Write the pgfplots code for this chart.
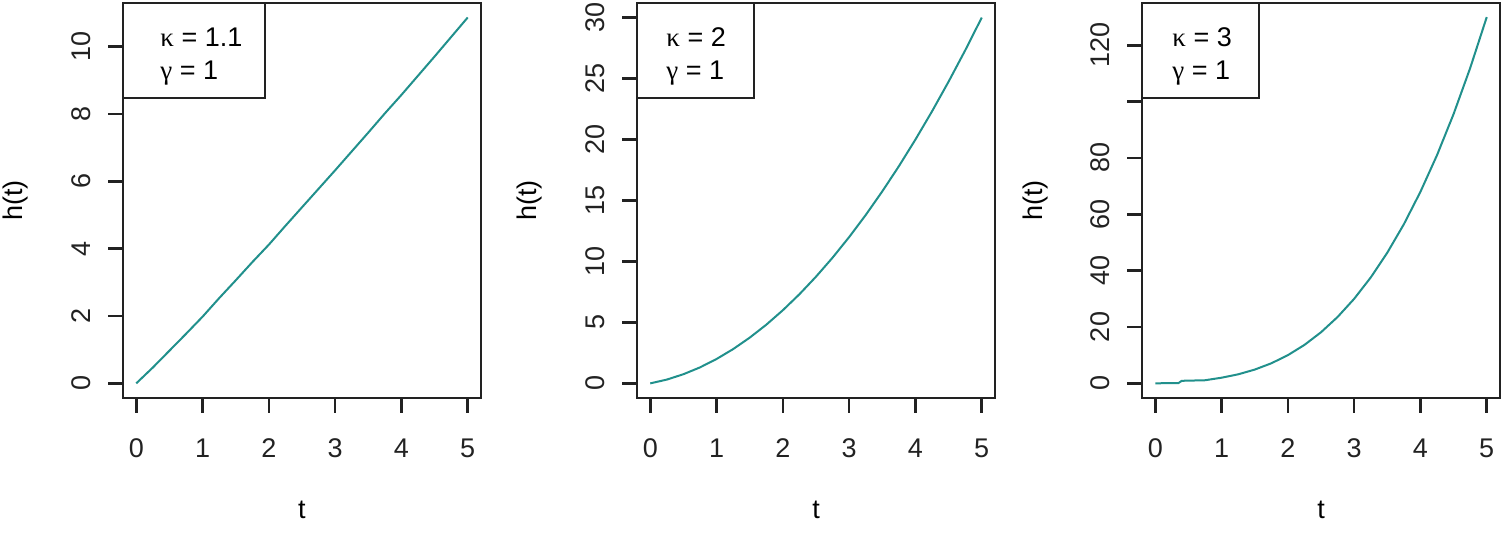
\documentclass[border=0pt]{standalone}
\usepackage{fontspec}
\setmainfont{Liberation Sans}
\newfontfamily\grk{Liberation Serif}
\usepackage{pgfplots}
\pgfplotsset{compat=1.18}
\definecolor{curve}{HTML}{21908C}
\definecolor{frame}{HTML}{222222}

\pgfplotsset{
  every tick/.style={draw=frame, line width=1.3pt},
  hpanel/.style={
    scale only axis, width=179pt, height=197.5pt,
    anchor=south west,
    axis line style={frame, line width=1pt},
    major tick style={draw=frame, line width=1.3pt},
    tick align=outside, major tick length=7.5pt,
    xtick pos=bottom, ytick pos=left,
    xmin=-0.2, xmax=5.2, xtick={0,1,2,3,4,5},
    /pgf/number format/assume math mode=true,
    ticklabel style={font=\fontsize{13.5}{15}\selectfont, text=frame},
    xticklabel style={yshift=-9.5pt},
    yticklabel style={xshift=-5pt, rotate=90, anchor=south},
    xlabel={t}, ylabel={h(t)},
    every axis x label/.style={at={([yshift=-56pt]axis description cs:0.5,0)}, anchor=center, font=\fontsize{13.5}{15}\selectfont},
    every axis y label/.style={at={([xshift=-53.5pt]axis description cs:0,0.5)}, anchor=center, rotate=90, font=\fontsize{13.5}{15}\selectfont},
  },
  hcurve/.style={curve, line width=1pt, no markers},
}

\newcommand\parlegend[3]{%
  \draw[frame, line width=1pt, fill=white] (rel axis cs:0,1) rectangle +(#1,-47.5pt);
  \path (rel axis cs:0,1) ++(#2,-22pt) node[anchor=base west, inner sep=0pt, font=\fontsize{13.5}{15}\selectfont] {{\grk κ} = #3};
  \path (rel axis cs:0,1) ++(#2,-38.5pt) node[anchor=base west, inner sep=0pt, font=\fontsize{13.5}{15}\selectfont] {{\grk γ} = 1};
}

\begin{document}
\begin{tikzpicture}
\path[use as bounding box] (0,0) rectangle (751.5pt,269.5pt);

\begin{axis}[hpanel, at={(61.5pt,70.5pt)}, ymin=-0.435, ymax=11.3, ytick={0,2,4,6,8,10}]
\addplot[hcurve] coordinates {
(0,0) (0.25,0.47) (0.5,0.97) (0.75,1.47) (1,1.98) (1.25,2.53) (1.5,3.06)
(1.75,3.60) (2,4.12) (2.25,4.68) (2.5,5.23) (2.75,5.78) (3,6.33) (3.25,6.89)
(3.5,7.45) (3.75,8.02) (4,8.57) (4.25,9.14) (4.5,9.71) (4.75,10.29) (5,10.87)};
\parlegend{71pt}{18.5pt}{1.1}
\end{axis}

\begin{axis}[hpanel, at={(318.5pt,70.5pt)}, ymin=-1.2, ymax=31.2, ytick={0,5,10,15,20,25,30}]
\addplot[hcurve] coordinates {
(0,0) (0.25,0.31) (0.5,0.75) (0.75,1.31) (1,2) (1.25,2.81) (1.5,3.75)
(1.75,4.81) (2,6) (2.25,7.31) (2.5,8.75) (2.75,10.31) (3,12) (3.25,13.81)
(3.5,15.75) (3.75,17.81) (4,20) (4.25,22.31) (4.5,24.75) (4.75,27.31) (5,30)};
\parlegend{58.5pt}{14.5pt}{2}
\end{axis}

\begin{axis}[hpanel, at={(571pt,70.5pt)}, ymin=-5.2, ymax=135, ytick={0,20,40,60,80,100,120}, yticklabels={0,20,40,60,80,,120}]
\addplot[hcurve] coordinates {
(0,0) (0.25,0.1) (0.35,0.1) (0.4,0.9) (0.75,1.1) (1,2) (1.25,3.2) (1.5,4.88)
(1.75,7.11) (2,10) (2.25,13.64) (2.5,18.13) (2.75,23.55) (3,30) (3.25,37.58)
(3.5,46.38) (3.75,56.48) (4,68) (4.25,81.0) (4.5,95.6) (4.75,111.9) (5,130)};
\parlegend{58.5pt}{15pt}{3}
\end{axis}
\end{tikzpicture}
\end{document}
